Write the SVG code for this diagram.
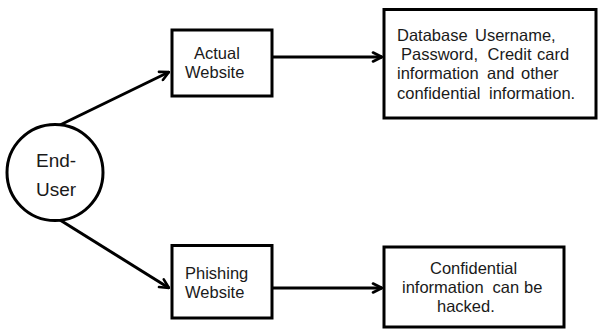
<svg xmlns="http://www.w3.org/2000/svg" width="600" height="329" viewBox="0 0 600 329">
  <style>
    .box { fill: #ffffff; stroke: #000000; stroke-width: 3; }
    .lbl { font-family: "Liberation Sans", Arial, sans-serif; font-size: 16.5px; fill: #1a1a1a; }
    .user { font-family: "Liberation Sans", Arial, sans-serif; font-size: 19px; fill: #1a1a1a; }
    .wire { fill: none; stroke: #000000; stroke-width: 3; }
  </style>
  <defs>
    <marker id="arrow" viewBox="0 0 12 12" refX="11" refY="6" markerWidth="12" markerHeight="12" markerUnits="userSpaceOnUse" orient="auto">
      <path d="M2,1.5 L11,6 L2,10.5" fill="none" stroke="#000000" stroke-width="2.6" stroke-linecap="round" stroke-linejoin="round"/>
    </marker>
  </defs>
  <rect width="600" height="329" fill="#ffffff"/>

  <g id="connectors">
    <line class="wire" x1="60" y1="125" x2="169" y2="72" marker-end="url(#arrow)"/>
    <line class="wire" x1="60" y1="220" x2="169" y2="288" marker-end="url(#arrow)"/>
    <line class="wire" x1="273" y1="57" x2="382" y2="57" marker-end="url(#arrow)"/>
    <line class="wire" x1="273" y1="288" x2="382" y2="288" marker-end="url(#arrow)"/>
  </g>

  <g id="end-user">
    <circle cx="55" cy="172.5" r="48" fill="#ffffff" stroke="#000000" stroke-width="3"/>
    <text class="user" x="36" y="167">End-</text>
    <text class="user" x="36" y="196">User</text>
  </g>

  <g id="actual-website">
    <rect class="box" x="172" y="30" width="100" height="66"/>
    <text class="lbl" x="194" y="58.5">Actual</text>
    <text class="lbl" x="185" y="77.5">Website</text>
  </g>

  <g id="phishing-website">
    <rect class="box" x="172" y="245.5" width="100" height="72.5"/>
    <text class="lbl" x="185" y="278.5">Phishing</text>
    <text class="lbl" x="185" y="297.5">Website</text>
  </g>

  <g id="credentials">
    <rect class="box" x="384" y="9.5" width="212" height="108.5"/>
    <text class="lbl" y="40.7"><tspan x="397">Database</tspan><tspan x="475">Username,</tspan></text>
    <text class="lbl" y="60"><tspan x="401">Password,</tspan><tspan x="487.5">Credit</tspan><tspan x="537">card</tspan></text>
    <text class="lbl" y="79.3"><tspan x="397">information</tspan><tspan x="487">and</tspan><tspan x="521">other</tspan></text>
    <text class="lbl" y="99"><tspan x="397">confidential</tspan><tspan x="489">information.</tspan></text>
  </g>

  <g id="hacked">
    <rect class="box" x="384" y="247" width="180" height="80"/>
    <text class="lbl" x="430" y="274.3">Confidential</text>
    <text class="lbl" y="293.3"><tspan x="402">information</tspan><tspan x="492.5">can</tspan><tspan x="524">be</tspan></text>
    <text class="lbl" x="437" y="311.7">hacked.</text>
  </g>
</svg>
